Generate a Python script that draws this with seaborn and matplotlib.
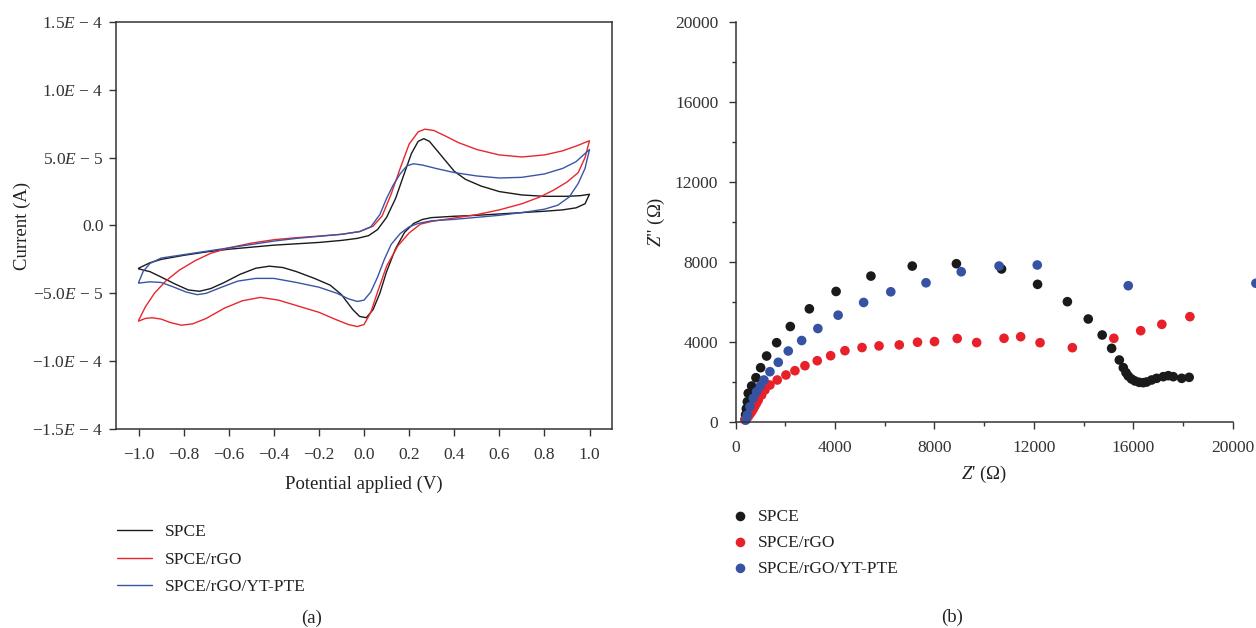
import matplotlib
matplotlib.use('Agg')
import matplotlib.pyplot as plt
import numpy as np
import pandas as pd
import seaborn as sns
from matplotlib.ticker import MultipleLocator

# (a) cyclic voltammograms: potential (V), current (x1e-5 A), forward then reverse
spce_v = [-1.0, -0.95, -0.9, -0.8, -0.7, -0.6, -0.5, -0.4, -0.3, -0.2, -0.1, -0.03, 0.02, 0.06,
          0.1, 0.14, 0.18, 0.21, 0.24, 0.265, 0.29, 0.32, 0.36, 0.40, 0.45, 0.52, 0.6, 0.7, 0.8,
          0.9, 0.96, 1.0,
          0.98, 0.94, 0.88, 0.8, 0.7, 0.6, 0.5, 0.4, 0.3, 0.26, 0.22, 0.18, 0.14, 0.1, 0.07, 0.04,
          0.01, -0.02, -0.05, -0.1, -0.15, -0.22, -0.3, -0.36, -0.42, -0.48, -0.55, -0.62, -0.68,
          -0.73, -0.78, -0.84, -0.9, -0.95, -1.0]
spce_i = [-3.15, -2.75, -2.5, -2.2, -1.95, -1.75, -1.6, -1.45, -1.35, -1.25, -1.1, -0.95, -0.75, -0.3,
          0.6, 2.0, 3.9, 5.3, 6.2, 6.4, 6.2, 5.6, 4.8, 4.0, 3.4, 2.9, 2.5, 2.25, 2.15,
          2.15, 2.2, 2.3,
          1.6, 1.3, 1.15, 1.05, 0.95, 0.85, 0.75, 0.68, 0.58, 0.45, 0.15, -0.5, -1.7, -3.4, -5.0, -6.2,
          -6.8, -6.7, -6.2, -5.1, -4.4, -3.9, -3.4, -3.1, -3.0, -3.15, -3.6, -4.2, -4.65,
          -4.85, -4.75, -4.3, -3.8, -3.4, -3.2]

rgo_v = [-1.0, -0.97, -0.93, -0.88, -0.82, -0.75, -0.68, -0.6, -0.5, -0.4, -0.3, -0.2, -0.1, -0.02,
         0.04, 0.08, 0.12, 0.16, 0.2, 0.24, 0.27, 0.31, 0.36, 0.42, 0.5, 0.6, 0.7, 0.8, 0.88, 0.94, 1.0,
         0.98, 0.95, 0.9, 0.84, 0.78, 0.7, 0.6, 0.5, 0.4, 0.3, 0.25, 0.2, 0.15, 0.1, 0.06, 0.03, 0.0,
         -0.03, -0.07, -0.13, -0.2, -0.3, -0.38, -0.46, -0.54, -0.62, -0.7, -0.76, -0.81, -0.86,
         -0.9, -0.94, -0.97, -1.0]
rgo_i = [-7.0, -6.0, -5.0, -4.1, -3.3, -2.6, -2.05, -1.65, -1.3, -1.05, -0.9, -0.78, -0.65, -0.45,
         -0.05, 0.7, 2.3, 4.2, 6.0, 6.9, 7.1, 7.0, 6.6, 6.1, 5.6, 5.2, 5.05, 5.2, 5.5, 5.85, 6.25,
         5.0, 3.9, 3.2, 2.6, 2.1, 1.6, 1.15, 0.8, 0.55, 0.3, 0.1, -0.55, -1.5, -3.0, -4.9, -6.4, -7.3,
         -7.45, -7.3, -6.9, -6.4, -5.9, -5.5, -5.3, -5.55, -6.1, -6.85, -7.25, -7.35, -7.15,
         -6.9, -6.8, -6.85, -7.05]

pte_v = [-1.0, -0.98, -0.95, -0.9, -0.8, -0.7, -0.6, -0.5, -0.4, -0.3, -0.2, -0.1, -0.02, 0.03,
         0.07, 0.1, 0.13, 0.16, 0.19, 0.22, 0.26, 0.32, 0.4, 0.5, 0.6, 0.7, 0.8, 0.88, 0.94, 1.0,
         0.98, 0.95, 0.91, 0.86, 0.8, 0.7, 0.6, 0.5, 0.4, 0.3, 0.24, 0.2, 0.16, 0.12, 0.09, 0.06, 0.03,
         0.0, -0.03, -0.07, -0.12, -0.2, -0.3, -0.4, -0.48, -0.56, -0.64, -0.7, -0.74, -0.79, -0.85,
         -0.9, -0.95, -1.0]
pte_i = [-4.2, -3.4, -2.8, -2.4, -2.15, -1.9, -1.65, -1.4, -1.15, -0.95, -0.8, -0.65, -0.45, -0.1,
         0.8, 2.0, 3.0, 3.8, 4.4, 4.55, 4.45, 4.2, 3.9, 3.65, 3.5, 3.55, 3.8, 4.2, 4.7, 5.6,
         4.2, 3.1, 2.1, 1.5, 1.2, 0.95, 0.75, 0.6, 0.45, 0.35, 0.15, -0.1, -0.6, -1.4, -2.5, -3.8, -4.9,
         -5.5, -5.6, -5.4, -5.0, -4.55, -4.2, -3.9, -3.9, -4.1, -4.6, -5.0, -5.1, -4.9, -4.5,
         -4.2, -4.15, -4.25]

# (b) Nyquist plots: Z' and Z'' (ohm)
spce_zr = [380, 400, 430, 470, 507, 644, 817, 1006, 1247, 1650, 2200, 2967, 4042, 5444, 7107, 8884,
           10700, 12150, 13350, 14190, 14750, 15130, 15440, 15600, 15710, 15800, 15930, 16070, 16240,
           16400, 16540, 16740, 16940, 17210, 17410, 17610, 17950, 18250]
spce_zi = [120, 350, 650, 1000, 1421, 1786, 2202, 2702, 3287, 3953, 4763, 5648, 6517, 7286, 7787, 7904,
           7641, 6873, 6005, 5139, 4338, 3671, 3087, 2704, 2453, 2287, 2137, 2037, 1970,
           1953, 1987, 2087, 2170, 2253, 2303, 2253, 2170, 2220]

rgo_zr = [374, 440, 507, 577, 644, 710, 777, 845, 910, 1046, 1179, 1380, 1675, 2024, 2386, 2789, 3284,
          3823, 4398, 5086, 5770, 6585, 7319, 8003, 8916, 9699, 10800, 11470, 12250, 13550, 15220,
          16300, 17150, 18280]
rgo_zi = [85, 170, 250, 380, 500, 640, 786, 940, 1086, 1336, 1586, 1836, 2087, 2337, 2552, 2802, 3052,
          3303, 3553, 3710, 3793, 3843, 3977, 4010, 4161, 3960, 4172, 4253, 3953, 3703, 4172,
          4553, 4871, 5255]

pte_zr = [415, 469, 577, 710, 845, 1000, 1139, 1380, 1716, 2118, 2657, 3309, 4124, 5151, 6243, 7661,
          9079, 10600, 12137, 15799, 20937]
pte_zi = [85, 335, 751, 1171, 1501, 1800, 2087, 2502, 2972, 3538, 4061, 4662, 5330, 5965, 6500, 6951,
          7503, 7790, 7841, 6805, 6925]

labels = ['SPCE', 'SPCE/rGO', 'SPCE/rGO/YT-PTE']
line_colors = ['#1a1a1a', '#e8262d', '#3a55a5']
dot_colors = ['#1a1a1a', '#e8202a', '#3652a3']

sns.set_theme(style='ticks')
plt.rcParams['font.family'] = ['Liberation Serif', 'DejaVu Serif']
plt.rcParams['mathtext.fontset'] = 'custom'
plt.rcParams['mathtext.rm'] = 'Liberation Serif'
plt.rcParams['mathtext.it'] = 'Liberation Serif:italic'
plt.rcParams['axes.edgecolor'] = '#333333'
plt.rcParams['xtick.color'] = '#333333'
plt.rcParams['ytick.color'] = '#333333'
plt.rcParams['text.color'] = '#222222'
plt.rcParams['axes.labelcolor'] = '#222222'

fig = plt.figure(figsize=(12.56, 6.28), dpi=100)
ax1 = fig.add_axes([0.0924, 0.3169, 0.3949, 0.6481])
ax2 = fig.add_axes([0.5857, 0.3285, 0.3957, 0.6365])

# --- (a) CV ---
cv = [(spce_v, spce_i), (rgo_v, rgo_i), (pte_v, pte_i)]
for (v, i), lab, c in zip(cv, labels, line_colors):
    df = pd.DataFrame({'V': v, 'I': np.array(i) * 1e-5})
    sns.lineplot(data=df, x='V', y='I', sort=False, estimator=None, color=c, lw=1.0,
                 label=lab, ax=ax1)

ax1.set_xlim(-1.1, 1.1)
ax1.set_ylim(-1.5e-4, 1.5e-4)
xt = [-1.0, -0.8, -0.6, -0.4, -0.2, 0.0, 0.2, 0.4, 0.6, 0.8, 1.0]
ax1.set_xticks(xt, labels=[f'{x:.1f}'.replace('-', '\u2212') for x in xt])
yt = [1.5e-4, 1.0e-4, 5e-5, 0.0, -5e-5, -1.0e-4, -1.5e-4]
ytl = ['1.5$E$ \u2212 4', '1.0$E$ \u2212 4', '5.0$E$ \u2212 5', '0.0',
       '\u22125.0$E$ \u2212 5', '\u22121.0$E$ \u2212 4', '\u22121.5$E$ \u2212 4']
ax1.set_yticks(yt, labels=ytl)
ax1.tick_params(direction='out', length=5, width=1, labelsize=12.5, pad=4)
ax1.tick_params(axis='x', pad=8)
ax1.set_xlabel('Potential applied (V)', fontsize=13.5, labelpad=9)
ax1.set_ylabel('Current (A)', fontsize=13.5, labelpad=1)
for s in ax1.spines.values():
    s.set_linewidth(1.1)
h1, l1 = ax1.get_legend_handles_labels()
ax1.get_legend().remove()
fig.legend(h1, l1, loc='upper left', bbox_to_anchor=(0.081, 0.190), frameon=False,
           fontsize=12.5, handlelength=2.0, labelspacing=0.64, handletextpad=0.75)

# --- (b) Nyquist ---
nyq = [(spce_zr, spce_zi), (rgo_zr, rgo_zi), (pte_zr, pte_zi)]
for (zr, zi), lab, c in zip(nyq, labels, dot_colors):
    df = pd.DataFrame({'Zr': zr, 'Zi': zi})
    sns.scatterplot(data=df, x='Zr', y='Zi', color=c, s=48, edgecolor='none', label=lab,
                    ax=ax2, clip_on=False)

ax2.set_xlim(0, 20000)
ax2.set_ylim(0, 20000)
ax2.xaxis.set_major_locator(MultipleLocator(4000))
ax2.xaxis.set_minor_locator(MultipleLocator(2000))
ax2.yaxis.set_major_locator(MultipleLocator(4000))
ax2.yaxis.set_minor_locator(MultipleLocator(2000))
ax2.tick_params(which='major', direction='out', length=5, width=1, labelsize=12.5)
ax2.tick_params(axis='x', which='major', pad=8)
ax2.tick_params(axis='y', which='major', pad=7.5)
ax2.tick_params(which='minor', direction='out', length=3, width=1)
sns.despine(ax=ax2)
for s in ax2.spines.values():
    s.set_linewidth(1.1)
ax2.set_xlabel("$Z$' (\u03a9)", fontsize=13.5, labelpad=6)
ax2.set_ylabel('$Z$" (\u03a9)', fontsize=13.5, labelpad=6)
h2, l2 = ax2.get_legend_handles_labels()
ax2.get_legend().remove()
fig.legend(h2, l2, loc='upper left', bbox_to_anchor=(0.5716, 0.2146), frameon=False,
           fontsize=12.5, handlelength=0.8, labelspacing=0.565, handletextpad=0.6,
           markerscale=1.0)

fig.text(0.2482, 1 - 618 / 628, '(a)', ha='center', va='center', fontsize=13.5)
fig.text(0.7577, 1 - 617 / 628, '(b)', ha='center', va='center', fontsize=13.5)

fig.savefig('out.png', dpi=100)
